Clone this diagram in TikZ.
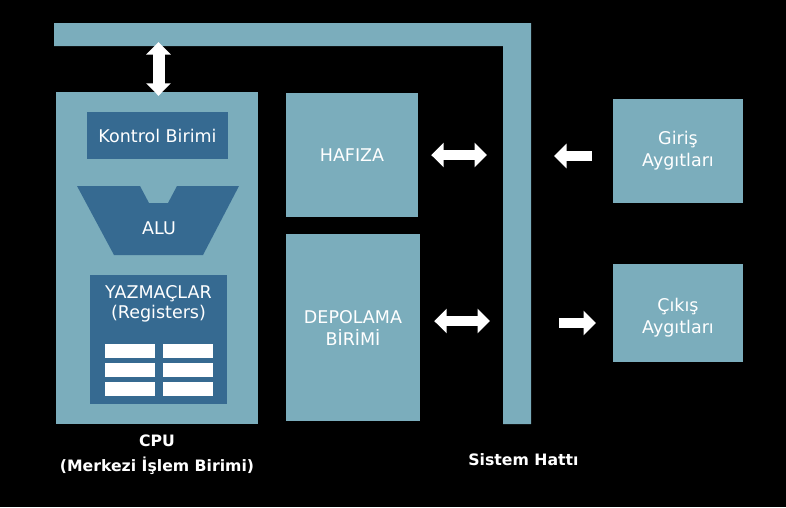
\documentclass[tikz,border=0pt]{standalone}
\usepackage{fontspec}
\setmainfont{DejaVu Sans}
\usetikzlibrary{arrows.meta}
\definecolor{busblue}{RGB}{123,173,188}
\definecolor{unitblue}{RGB}{54,106,145}
\tikzset{
  box/.style={fill=busblue, text=white, align=center, inner sep=0pt,
    font=\fontsize{17.5}{22}\selectfont},
  unit/.style={fill=unitblue, text=white, align=center, inner sep=0pt,
    font=\fontsize{17.5}{22}\selectfont},
  caption/.style={text=white, align=center, inner sep=0pt,
    font=\fontsize{15.7}{25}\selectfont\bfseries},
  oneway/.style={white, line width=9.5pt, -{Triangle[length=12.5pt,width=24pt]}},
  twoway/.style={white, line width=9.5pt,
    {Triangle[length=12.5pt,width=24pt]}-{Triangle[length=12.5pt,width=24pt]}}
}

\begin{document}
\begin{tikzpicture}[x=1pt, y=-1pt]
\useasboundingbox (0,0) rectangle (786,507);
\fill[black] (0,0) rectangle (786,507);
\fill[busblue] (54,23) -- (531,23) -- (531,424) -- (503,424) -- (503,46) -- (54,46) -- cycle;
\node[caption] (bus) at (523.5,460) {Sistem Hattı};

\node[box, minimum width=202pt, minimum height=332pt] (cpu) at (157,258) {};
\node[caption] (cpulabel) at (157,455) {CPU\\(Merkezi İşlem Birimi)};
\node[unit, minimum width=141pt, minimum height=47pt] (kontrol) at (157.5,135.5) {Kontrol Birimi};
\fill[unitblue] (77,186) -- (140,186) -- (149,203) -- (168,203) -- (177,186) -- (239,186)
  -- (203,255) -- (114,255) -- cycle;
\node[text=white, inner sep=0pt, font=\fontsize{17.5}{22}\selectfont] (alu) at (159,228) {ALU};
\node[unit, minimum width=137pt, minimum height=129pt] (regs) at (158.5,339.5) {};
\node[text=white, align=center, inner sep=0pt, font=\fontsize{17.5}{20}\selectfont] (regtext)
  at (158.5,304) {YAZMAÇLAR\\(Registers)};
\foreach \r in {0,1,2}
  \foreach \c in {105,163}
    \fill[white] (\c,344+19*\r) rectangle ++(50,14);

\node[box, minimum width=132pt, minimum height=124pt] (hafiza) at (352,155) {HAFIZA};
\node[box, minimum width=134pt, minimum height=187pt] (depolama) at (353,327.5) {DEPOLAMA\\BİRİMİ};
\node[box, minimum width=130pt, minimum height=104pt] (giris) at (678,151) {Giriş\\Aygıtları};
\node[box, minimum width=130pt, minimum height=98pt] (cikis) at (678,313) {};
\node[box, fill=none] (cikistext) at (678,318) {Çıkış\\Aygıtları};

\coordinate (cpubus) at (158.5,42);
\coordinate (hafizabus) at (487,155);
\coordinate (depolamabus) at (490,321);
\coordinate (girisbus) at (554,156);
\coordinate (cikisbus) at (596,323);

\draw[twoway, line width=12pt] ([xshift=1.5pt,yshift=-4pt]cpu.north) -- (cpubus);
\draw[twoway] ([xshift=13pt]hafiza.east) -- (hafizabus);
\draw[twoway] ([xshift=14pt,yshift=6.5pt]depolama.east) -- (depolamabus);
\draw[oneway] ([xshift=-21pt,yshift=-5pt]giris.west) -- (girisbus);
\draw[oneway] ([xshift=-54pt,yshift=-10pt]cikis.west) -- (cikisbus);
\end{tikzpicture}
\end{document}
